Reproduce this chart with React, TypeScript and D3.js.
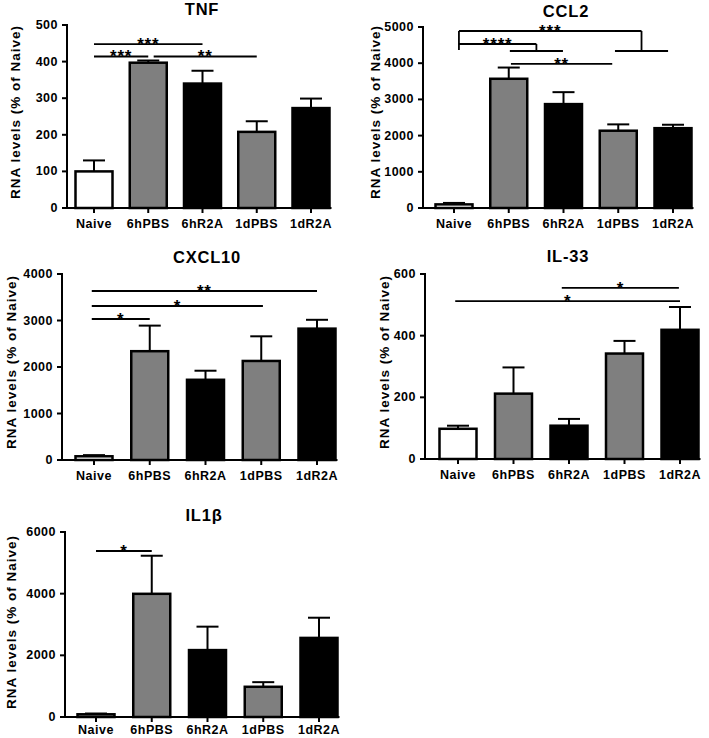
import React from "react";
import * as d3 from "d3";

const categories = ["Naive", "6hPBS", "6hR2A", "1dPBS", "1dR2A"];

const tnfMeans = [100, 397, 340, 208, 273];
const tnfErrors = [30, 6, 35, 29, 26];
const tnfTicks = [0, 100, 200, 300, 400, 500];

const ccl2Means = [100, 3570, 2870, 2135, 2205];
const ccl2Errors = [40, 310, 330, 175, 95];
const ccl2Ticks = [0, 1000, 2000, 3000, 4000, 5000];

const cxcl10Means = [80, 2340, 1725, 2130, 2825];
const cxcl10Errors = [25, 550, 195, 530, 190];
const cxcl10Ticks = [0, 1000, 2000, 3000, 4000];

const il33Means = [98, 212, 108, 342, 419];
const il33Errors = [10, 85, 22, 41, 74];
const il33Ticks = [0, 200, 400, 600];

const il1bMeans = [88, 3995, 2170, 980, 2565];
const il1bErrors = [25, 1235, 760, 150, 655];
const il1bTicks = [0, 2000, 4000, 6000];

// significance lines: from/to are category indices, y in data units
const tnfSig = [
  { from: 0, to: 2, y: 448, label: "***" },
  { from: 0, to: 1, y: 414, label: "***" },
  { from: 1.1, to: 3, y: 414, label: "**" },
];
const ccl2Sig = [{ from: 1.04, to: 2.89, y: 3980, label: "**" }];
const ccl2Groups = [
  { from: 0.09, y: 4890, drop: 4365, gFrom: 2.94, gTo: 3.91, gY: 4337, label: "***" },
  { from: 0.09, y: 4530, drop: 4530, gFrom: 1.02, gTo: 1.99, gY: 4337, label: "****" },
];
const cxcl10Sig = [
  { from: -0.04, to: 4, y: 3634, label: "**" },
  { from: -0.04, to: 3.03, y: 3312, label: "*" },
  { from: -0.04, to: 1, y: 3032, label: "*" },
];
const il33Sig = [
  { from: -0.05, to: 4, y: 512, label: "*" },
  { from: 1.87, to: 3.98, y: 555, label: "*" },
];
const il1bSig = [{ from: 0, to: 1, y: 5384, label: "*" }];

const FILLS = ["#ffffff", "#7f7f7f", "#000000", "#7f7f7f", "#000000"];
const FONT = "'Liberation Sans', Arial, Helvetica, sans-serif";

type Sig = { from: number; to: number; y: number; label: string };
type Group = { from: number; y: number; drop: number; gFrom: number; gTo: number; gY: number; label: string };

type PanelProps = {
  title: string;
  means: number[];
  errors: number[];
  ticks: number[];
  sig: Sig[];
  groups?: Group[];
  axisX: number;
  yTop: number;
  yBottom: number;
  first: number;
  last: number;
  titleX: number;
  titleY: number;
  labelX: number;
  labelY: number;
  xLabelGap?: number;
};

function Panel(p: PanelProps) {
  const maxV = p.ticks[p.ticks.length - 1];
  const y = d3.scaleLinear().domain([0, maxV]).range([p.yBottom, p.yTop]);
  const x = d3.scalePoint<string>().domain(categories).range([p.first, p.last]).padding(0);
  const step = x.step();
  const xi = (i: number) => p.first + i * step;
  const barW = 37;
  const axisEnd = p.last + barW / 2 + 2;
  const y0 = y(0);
  const gap = p.xLabelGap ?? 16;
  const starText = (cx: number, ly: number, label: string, key: string) => (
    <text
      key={key}
      x={cx}
      y={ly + 6}
      textAnchor="middle"
      fontSize={17}
      fontWeight="bold"
      letterSpacing={0.8}
      fontFamily={FONT}
    >
      {label}
    </text>
  );
  return (
    <g>
      <text
        x={p.titleX}
        y={p.titleY}
        textAnchor="middle"
        dominantBaseline="central"
        fontSize={16.5}
        fontWeight="bold"
        letterSpacing={0.8}
        fontFamily={FONT}
      >
        {p.title}
      </text>
      <text
        transform={`translate(${p.labelX},${p.labelY}) rotate(-90)`}
        textAnchor="middle"
        dominantBaseline="central"
        fontSize={13.5}
        fontWeight="bold"
        letterSpacing={1}
        fontFamily={FONT}
      >
        RNA levels (% of Naive)
      </text>
      {/* y axis */}
      <line x1={p.axisX} x2={p.axisX} y1={y(maxV) - 1} y2={y0 + 1} stroke="#000" strokeWidth={2} />
      {p.ticks.map((t) => (
        <g key={t}>
          <line x1={p.axisX - 5} x2={p.axisX} y1={y(t)} y2={y(t)} stroke="#000" strokeWidth={2} />
          <text
            x={p.axisX - 9}
            y={y(t)}
            textAnchor="end"
            dominantBaseline="central"
            fontSize={12.5}
            fontWeight="bold"
            letterSpacing={0.5}
            fontFamily={FONT}
          >
            {t}
          </text>
        </g>
      ))}
      {/* bars */}
      {categories.map((c, i) => {
        const cx = x(c) as number;
        const v = p.means[i];
        const e = p.errors[i];
        return (
          <g key={c}>
            <line x1={cx} x2={cx} y1={y(v)} y2={y(v + e)} stroke="#000" strokeWidth={2} />
            <line x1={cx - 11} x2={cx + 11} y1={y(v + e)} y2={y(v + e)} stroke="#000" strokeWidth={2} />
            <rect
              x={cx - barW / 2}
              y={y(v)}
              width={barW}
              height={y0 - y(v)}
              fill={FILLS[i]}
              stroke="#000"
              strokeWidth={2.5}
            />
          </g>
        );
      })}
      {/* x axis */}
      <line x1={p.axisX} x2={axisEnd} y1={y0} y2={y0} stroke="#000" strokeWidth={2} />
      {categories.map((c) => {
        const cx = x(c) as number;
        return (
          <g key={"t" + c}>
            <line x1={cx} x2={cx} y1={y0} y2={y0 + 5} stroke="#000" strokeWidth={2} />
            <text
              x={cx}
              y={y0 + gap}
              textAnchor="middle"
              dominantBaseline="central"
              fontSize={12.5}
              fontWeight="bold"
              letterSpacing={0.5}
              fontFamily={FONT}
            >
              {c}
            </text>
          </g>
        );
      })}
      {/* significance */}
      {p.sig.map((s, k) => {
        const x1 = xi(s.from);
        const x2 = xi(s.to);
        const ly = y(s.y);
        return (
          <g key={"s" + k}>
            <line x1={x1} x2={x2} y1={ly} y2={ly} stroke="#000" strokeWidth={1.8} />
            {starText((x1 + x2) / 2, ly, s.label, "st" + k)}
          </g>
        );
      })}
      {(p.groups || []).map((g, k) => {
        const x1 = xi(g.from);
        const gx1 = xi(g.gFrom);
        const gx2 = xi(g.gTo);
        const mid = (gx1 + gx2) / 2;
        const ly = y(g.y);
        return (
          <g key={"g" + k}>
            <line x1={x1} x2={mid} y1={ly} y2={ly} stroke="#000" strokeWidth={1.8} />
            {g.drop !== g.y && (
              <line x1={x1} x2={x1} y1={ly} y2={y(g.drop)} stroke="#000" strokeWidth={1.8} />
            )}
            <line x1={mid} x2={mid} y1={ly} y2={y(g.gY)} stroke="#000" strokeWidth={1.8} />
            <line x1={gx1} x2={gx2} y1={y(g.gY)} y2={y(g.gY)} stroke="#000" strokeWidth={1.8} />
            {starText((x1 + mid) / 2, ly, g.label, "gt" + k)}
          </g>
        );
      })}
    </g>
  );
}

export default function App() {
  return (
    <svg
      width={709}
      height={738}
      viewBox="0 0 709 738"
      style={{ position: "absolute", left: 0, top: 0, background: "#fff" }}
    >
      <rect x={0} y={0} width={709} height={738} fill="#fff" />
      <Panel
        title="TNF"
        means={tnfMeans}
        errors={tnfErrors}
        ticks={tnfTicks}
        sig={tnfSig}
        axisX={67}
        yTop={25}
        yBottom={208}
        first={94}
        last={311}
        titleX={202}
        titleY={9}
        labelX={15}
        labelY={112}
      />
      <Panel
        title="CCL2"
        means={ccl2Means}
        errors={ccl2Errors}
        ticks={ccl2Ticks}
        sig={ccl2Sig}
        groups={ccl2Groups}
        axisX={423}
        yTop={27}
        yBottom={208}
        first={454}
        last={673}
        titleX={566}
        titleY={11}
        labelX={375}
        labelY={112}
      />
      <Panel
        title="CXCL10"
        means={cxcl10Means}
        errors={cxcl10Errors}
        ticks={cxcl10Ticks}
        sig={cxcl10Sig}
        axisX={62}
        yTop={274}
        yBottom={460}
        first={94}
        last={317}
        titleX={207}
        titleY={257}
        labelX={11}
        labelY={362}
      />
      <Panel
        title="IL-33"
        means={il33Means}
        errors={il33Errors}
        ticks={il33Ticks}
        sig={il33Sig}
        axisX={425}
        yTop={274}
        yBottom={459}
        first={458}
        last={680}
        titleX={568}
        titleY={256}
        labelX={384}
        labelY={362}
      />
      <Panel
        title="IL1β"
        means={il1bMeans}
        errors={il1bErrors}
        ticks={il1bTicks}
        sig={il1bSig}
        axisX={65}
        yTop={532}
        yBottom={717}
        first={96}
        last={319}
        titleX={204}
        titleY={515}
        labelX={11}
        labelY={622}
        xLabelGap={13}
      />
    </svg>
  );
}
